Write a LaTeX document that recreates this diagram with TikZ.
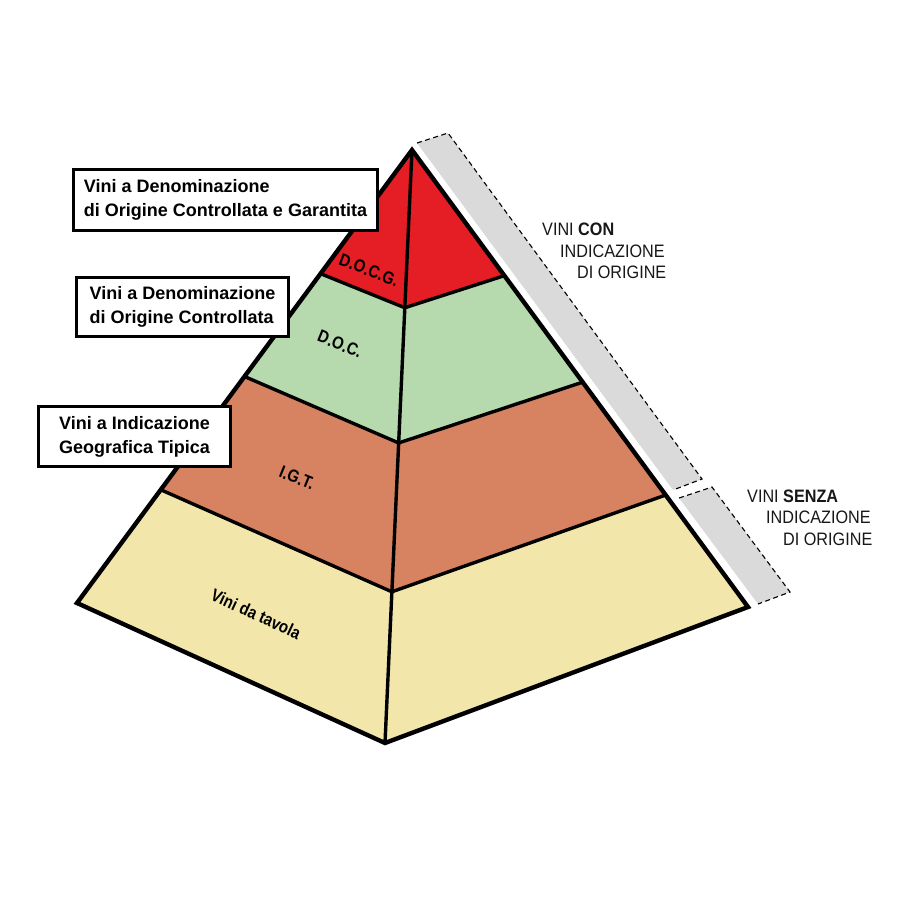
\documentclass[tikz,border=0pt]{standalone}
\usepackage{fontspec}
\setmainfont{Liberation Sans}
\newfontfamily\narrowfont{Liberation Sans}[FakeStretch=0.9]
\newfontfamily\tierfont{Liberation Sans}[FakeStretch=0.86]
\usetikzlibrary{calc}

\definecolor{docgred}{RGB}{228,30,36}
\definecolor{docgreen}{RGB}{183,217,174}
\definecolor{igtbrown}{RGB}{215,130,97}
\definecolor{tavolayel}{RGB}{242,230,171}
\definecolor{bandgray}{RGB}{218,218,218}
\definecolor{sidetext}{RGB}{25,22,23}

\begin{document}
\begin{tikzpicture}[
    x=1pt, y=-1pt,
    labelbox/.style={draw, line width=3pt, fill=white, align=left, inner sep=0pt,
      font=\bfseries\fontsize{18}{24}\selectfont},
    tier/.style={font=\tierfont\bfseries\fontsize{17.5}{20}\selectfont},
    edge/.style={line width=3.4pt},
    outline/.style={line width=4.4pt},
    sidebar/.style={fill=bandgray, draw=none},
    sideline/.style={draw=black, line width=1.1pt, dash pattern=on 5pt off 3.5pt},
    sidelabel/.style={anchor=base west, inner sep=0pt, text=sidetext,
      font=\narrowfont\fontsize{18}{22}\selectfont}
  ]
  \useasboundingbox (0,0) rectangle (900,900);

  % corners of the pyramid
  \coordinate (apex) at (412,150);
  \coordinate (left) at (77,603);
  \coordinate (bottom) at (385,743);
  \coordinate (right) at (748,607);

  % tier boundaries on the three edges
  \coordinate (l1) at ($(apex)!.273!(left)$);
  \coordinate (l2) at ($(apex)!.500!(left)$);
  \coordinate (l3) at ($(apex)!.750!(left)$);
  \coordinate (c1) at ($(apex)!.266!(bottom)$);
  \coordinate (c2) at ($(apex)!.494!(bottom)$);
  \coordinate (c3) at ($(apex)!.745!(bottom)$);
  \coordinate (r1) at ($(apex)!.275!(right)$);
  \coordinate (r2) at ($(apex)!.508!(right)$);
  \coordinate (r3) at ($(apex)!.755!(right)$);

  % gray side bars
  \coordinate (ga) at (417,143);
  \coordinate (gb) at (448,133);
  \coordinate (gc) at (702,479);
  \coordinate (gd) at (673,490);
  \coordinate (ha) at (679,498);
  \coordinate (hb) at (712,487);
  \coordinate (hc) at (790,592);
  \coordinate (hd) at (758,604);
  \fill[sidebar] (ga) -- (gb) -- (gc) -- (gd) -- cycle;
  \fill[sidebar] (ha) -- (hb) -- (hc) -- (hd) -- cycle;
  \draw[sideline] (ga) -- (gb) -- (gc) -- (gd);
  \draw[sideline] (ha) -- (hb) -- (hc) -- (hd);

  % tiers
  \fill[docgred] (apex) -- (r1) -- (c1) -- (l1) -- cycle;
  \fill[docgreen] (l1) -- (c1) -- (r1) -- (r2) -- (c2) -- (l2) -- cycle;
  \fill[igtbrown] (l2) -- (c2) -- (r2) -- (r3) -- (c3) -- (l3) -- cycle;
  \fill[tavolayel] (l3) -- (c3) -- (r3) -- (right) -- (bottom) -- (left) -- cycle;

  \draw[edge] (l1) -- (c1) -- (r1);
  \draw[edge] (l2) -- (c2) -- (r2);
  \draw[edge] (l3) -- (c3) -- (r3);
  \draw[edge] (apex) -- (bottom);
  \draw[outline] (apex) -- (left) -- (bottom) -- (right) -- cycle;

  % tier names
  \node[tier, rotate=-21] (docg) at (369,270) {D.O.C.G.};
  \node[tier, rotate=-22] (doc) at (340,344) {D.O.C.};
  \node[tier, rotate=-22] (igt) at (297,478) {I.G.T.};
  \node[tier, rotate=-25] (tavola) at (256,614) {Vini da tavola};

  % boxes on the left
  \node[labelbox, minimum width=304, minimum height=61] (docgbox) at (225.5,200)
    {Vini a Denominazione\\di Origine Controllata e Garantita};
  \node[labelbox, minimum width=212, minimum height=59] (docbox) at (182.5,307)
    {Vini a Denominazione\\di Origine Controllata};
  \node[labelbox, minimum width=192, minimum height=60] (igtbox) at (134.5,436.5)
    {Vini a Indicazione\\Geografica Tipica};

  % texts on the right
  \node[sidelabel] (con1) at (542,235) {VINI \textbf{CON}};
  \node[sidelabel] (con2) at (560,257) {INDICAZIONE};
  \node[sidelabel] (con3) at (577,278) {DI ORIGINE};
  \node[sidelabel] (senza1) at (747,502) {VINI \textbf{SENZA}};
  \node[sidelabel] (senza2) at (766,523) {INDICAZIONE};
  \node[sidelabel] (senza3) at (783,545) {DI ORIGINE};
\end{tikzpicture}
\end{document}
